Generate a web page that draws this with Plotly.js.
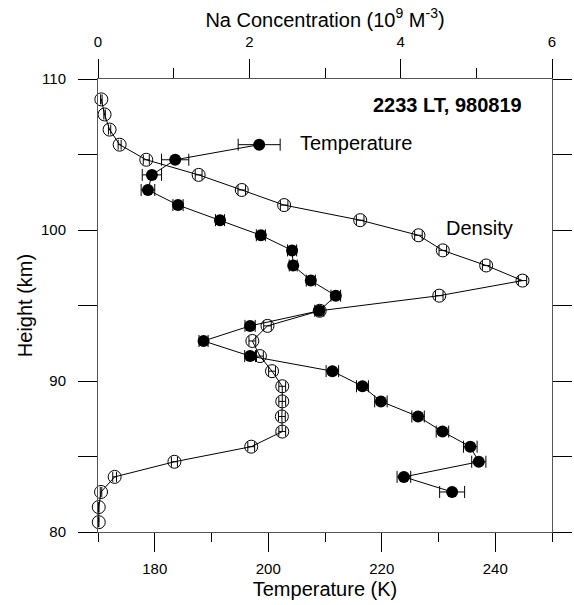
<!DOCTYPE html>
<html>
<head>
<meta charset="utf-8">
<script src="https://cdn.plot.ly/plotly-3.0.1.min.js"></script>
<style>
html,body{margin:0;padding:0;background:#fff;}
#chart{width:574px;height:605px;}
</style>
</head>
<body>
<div id="chart"></div>
<script>
// Density (open circles), top axis, 10^9 m^-3
const densHeight = [108.65,107.65,106.65,105.65,104.65,103.65,102.65,101.65,100.65,99.65,98.65,97.65,96.65,95.65,94.65,93.65,92.65,91.65,90.65,89.65,88.65,87.65,86.65,85.65,84.65,83.65,82.65,81.65,80.65];
const densValue  = [0.044,0.087,0.153,0.286,0.638,1.33,1.90,2.46,3.465,4.235,4.557,5.13,5.61,4.51,2.93,2.24,2.04,2.14,2.30,2.435,2.435,2.43,2.435,2.025,1.01,0.22,0.04,0.01,0.01];
const densErr    = [0.01,0.01,0.015,0.02,0.04,0.045,0.05,0.05,0.05,0.05,0.05,0.05,0.055,0.05,0.05,0.05,0.045,0.045,0.045,0.045,0.045,0.045,0.045,0.045,0.04,0.025,0.01,0.0,0.0];

// Temperature (filled circles), bottom axis, K
const tempHeight = [105.65,104.65,103.65,102.65,101.65,100.65,99.65,98.65,97.65,96.65,95.65,94.65,93.65,92.65,91.65,90.65,89.65,88.65,87.65,86.65,85.65,84.65,83.65,82.65];
const tempValue  = [198.4,183.6,179.5,178.8,184.1,191.5,198.7,204.2,204.4,207.5,211.9,209.0,196.8,188.6,196.8,211.3,216.6,219.85,226.4,230.7,235.6,237.1,223.9,232.4];
const tempErr    = [3.7,2.4,1.7,1.2,0.9,0.8,0.8,0.8,0.7,0.8,0.85,0.8,0.9,0.8,0.95,1.1,1.05,1.1,1.1,1.1,1.2,1.25,1.2,2.2];

const tempTicks = [180,200,220,240];
const densTicks = [0,2,4,6];
const heightTicks = [80,90,100,110];

const FONT = 'Liberation Sans, Arial, sans-serif';

const traces = [
  {
    x: densValue, y: densHeight, xaxis: 'x2', yaxis: 'y',
    type: 'scatter', mode: 'lines+markers', cliponaxis: false,
    line: {color: '#000', width: 1},
    marker: {symbol: 'circle-open', size: 13, color: '#000', line: {width: 1, color: '#000'}},
    error_x: {type: 'data', array: densErr, visible: true, color: '#000', thickness: 1, width: 5},
    showlegend: false
  },
  {
    x: tempValue, y: tempHeight, xaxis: 'x', yaxis: 'y',
    type: 'scatter', mode: 'lines+markers', cliponaxis: false,
    line: {color: '#000', width: 1},
    marker: {symbol: 'circle', size: 12, color: '#000'},
    error_x: {type: 'data', array: tempErr, visible: true, color: '#000', thickness: 1, width: 6},
    showlegend: false
  }
];

const layout = {
  width: 574, height: 605,
  margin: {l: 98, r: 22, t: 79, b: 73, pad: 0},
  paper_bgcolor: '#fff', plot_bgcolor: '#fff',
  font: {family: FONT, size: 15, color: '#000'},
  xaxis: {
    range: [170, 250], tickvals: tempTicks, ticktext: tempTicks.map(String),
    ticks: 'outside', ticklen: 19, tickwidth: 1, tickcolor: '#000',
    minor: {dtick: 10, tick0: 170, ticks: 'outside', ticklen: 9, tickcolor: '#000', tickwidth: 1, showgrid: false},
    showline: true, linecolor: '#555', linewidth: 1, mirror: true,
    showgrid: false, zeroline: false,
    tickfont: {size: 15, family: FONT},
    ticklabelstandoff: 4,
    title: {text: 'Temperature (K)', font: {size: 20, family: FONT}, standoff: 5}
  },
  xaxis2: {
    range: [0, 6], overlaying: 'x', side: 'top', anchor: 'y',
    tickvals: densTicks, ticktext: densTicks.map(String),
    ticks: 'outside', ticklen: 19, tickwidth: 1, tickcolor: '#000',
    minor: {dtick: 1, tick0: 0, ticks: 'outside', ticklen: 10, tickcolor: '#000', tickwidth: 1, showgrid: false},
    showline: true, linecolor: '#555', linewidth: 1,
    showgrid: false, zeroline: false,
    tickfont: {size: 15, family: FONT},
    ticklabelstandoff: 6,
    title: {text: 'Na Concentration (10<sup>9</sup> M<sup>-3</sup>)', font: {size: 20, family: FONT}, standoff: 0}
  },
  yaxis: {
    range: [80, 110], tickvals: heightTicks, ticktext: heightTicks.map(String),
    ticks: 'outside', ticklen: 19, tickwidth: 1, tickcolor: '#000',
    minor: {dtick: 5, tick0: 80, ticks: 'outside', ticklen: 9, tickcolor: '#000', tickwidth: 1, showgrid: false},
    showline: true, linecolor: '#555', linewidth: 1, mirror: 'allticks',
    showgrid: false, zeroline: false,
    tickfont: {size: 15, family: FONT},
    ticklabelstandoff: 9,
    title: {text: 'Height (km)', font: {size: 20, family: FONT}, standoff: 2}
  },
  annotations: [
    {xref: 'paper', yref: 'paper', x: 0.938, y: 0.943, xanchor: 'right', yanchor: 'middle',
     text: '<b>2233 LT, 980819</b>', showarrow: false, font: {size: 20, family: FONT, color: '#000'}},
    {xref: 'paper', yref: 'paper', x: 0.4405, y: 0.8587, xanchor: 'left', yanchor: 'middle',
     text: 'Temperature', showarrow: false, font: {size: 20, family: FONT, color: '#000'}},
    {xref: 'paper', yref: 'paper', x: 0.7628, y: 0.671, xanchor: 'left', yanchor: 'middle',
     text: 'Density', showarrow: false, font: {size: 20, family: FONT, color: '#000'}}
  ]
};

Plotly.newPlot('chart', traces, layout, {displayModeBar: false, staticPlot: true});
</script>
</body>
</html>
